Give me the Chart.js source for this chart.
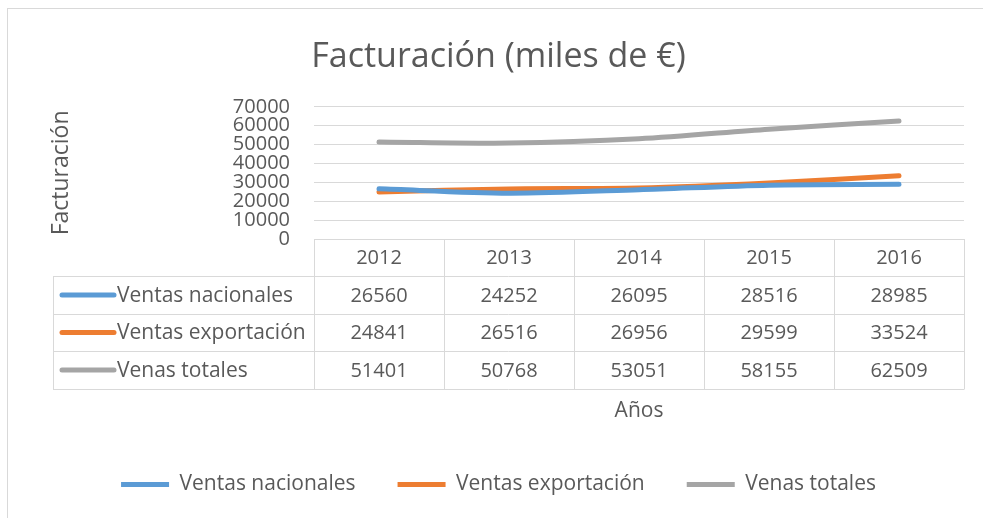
<!DOCTYPE html>
<html>
<head>
<meta charset="utf-8">
<script src="https://cdn.jsdelivr.net/npm/chart.js@4.4.1/dist/chart.umd.min.js"></script>
<style>
  html, body { margin: 0; padding: 0; background: #fff; }
  #wrap { width: 983px; height: 518px; }
</style>
</head>
<body>
<div id="wrap"><canvas id="grafico"></canvas></div>
<script>
const years = ['2012', '2013', '2014', '2015', '2016'];
const seriesNames = ['Ventas nacionales', 'Ventas exportación', 'Venas totales'];
const ventasNacionales = [26560, 24252, 26095, 28516, 28985];
const ventasExportacion = [24841, 26516, 26956, 29599, 33524];
const venasTotales = [51401, 50768, 53051, 58155, 62509];
const colores = ['#5B9BD5', '#ED7D31', '#A5A5A5'];

const textColor = '#595959';
const lineGray = '#D9D9D9';
const fontName = "'Open Sans', sans-serif";

// draws the chart frame and the data table under the plot
const tablaPlugin = {
  id: 'tabla',
  beforeDraw(chart) {
    const ctx = chart.ctx;
    ctx.save();
    ctx.strokeStyle = lineGray;
    ctx.lineWidth = 1;
    ctx.strokeRect(7.5, 8.5, 1000, 600);
    ctx.restore();
  },
  afterDraw(chart) {
    const ctx = chart.ctx;
    const area = chart.chartArea;
    const x = chart.scales.x;
    const rowH = 37.4;
    const labelLeft = 53;
    const top = area.bottom;
    const rows = [ventasNacionales, ventasExportacion, venasTotales];
    const bottom = top + (rows.length + 1) * rowH;

    let bounds = [area.left];
    for (let i = 1; i < years.length; i++) {
      bounds.push((x.getPixelForValue(i - 1) + x.getPixelForValue(i)) / 2);
    }
    bounds.push(area.right);

    ctx.save();
    ctx.strokeStyle = lineGray;
    ctx.lineWidth = 1;
    ctx.beginPath();
    ctx.moveTo(area.left, Math.round(top) + 0.5);
    ctx.lineTo(area.right, Math.round(top) + 0.5);
    for (let r = 1; r <= rows.length + 1; r++) {
      const yy = Math.round(top + r * rowH) + 0.5;
      ctx.moveTo(labelLeft, yy);
      ctx.lineTo(area.right, yy);
    }
    bounds.forEach(b => {
      const xx = Math.round(b) + 0.5;
      ctx.moveTo(xx, top);
      ctx.lineTo(xx, Math.round(bottom) + 0.5);
    });
    ctx.moveTo(labelLeft + 0.5, Math.round(top + rowH));
    ctx.lineTo(labelLeft + 0.5, Math.round(bottom) + 0.5);
    ctx.stroke();

    ctx.fillStyle = textColor;
    ctx.font = '20px ' + fontName;
    ctx.textAlign = 'center';
    ctx.textBaseline = 'middle';
    years.forEach((y, i) => {
      ctx.fillText(y, x.getPixelForValue(i), top + rowH / 2 + 1);
    });
    rows.forEach((vals, r) => {
      const cy = top + (r + 1) * rowH + rowH / 2 + 1;
      vals.forEach((v, i) => {
        ctx.fillText(String(v), x.getPixelForValue(i), cy);
      });
    });

    ctx.font = '21px ' + fontName;
    rows.forEach((vals, r) => {
      const cy = top + (r + 1) * rowH + rowH / 2;
      ctx.strokeStyle = colores[r];
      ctx.lineWidth = 5;
      ctx.lineCap = 'round';
      ctx.beginPath();
      ctx.moveTo(62, cy);
      ctx.lineTo(114, cy);
      ctx.stroke();
      ctx.textAlign = 'left';
      ctx.fillText(seriesNames[r], 117, cy + 1);
    });
    ctx.restore();
  }
};

const ctx = document.getElementById('grafico');

new Chart(ctx, {
  type: 'line',
  data: {
    labels: years,
    datasets: [
      { label: seriesNames[0], data: ventasNacionales, borderColor: colores[0], backgroundColor: colores[0] },
      { label: seriesNames[1], data: ventasExportacion, borderColor: colores[1], backgroundColor: colores[1] },
      { label: seriesNames[2], data: venasTotales, borderColor: colores[2], backgroundColor: colores[2] }
    ]
  },
  options: {
    responsive: true,
    maintainAspectRatio: false,
    animation: false,
    layout: { padding: { left: 33, right: 19, top: 0, bottom: 13 } },
    elements: {
      line: { borderWidth: 5, tension: 0.3, borderCapStyle: 'round', borderJoinStyle: 'round' },
      point: { radius: 0, hoverRadius: 0 }
    },
    plugins: {
      tooltip: { enabled: false },
      title: {
        display: true,
        text: 'Facturación (miles de €)',
        color: textColor,
        font: { family: fontName, size: 34, weight: 'normal' },
        padding: { top: 37, bottom: 29 }
      },
      legend: {
        position: 'bottom',
        labels: {
          color: textColor,
          font: { family: fontName, size: 21 },
          boxWidth: 48,
          boxHeight: 5,
          padding: 42,
          generateLabels(chart) {
            return Chart.defaults.plugins.legend.labels.generateLabels(chart).map(l => {
              l.lineWidth = 0;
              return l;
            });
          }
        }
      }
    },
    scales: {
      x: {
        offset: true,
        grid: { display: false },
        border: { display: false },
        ticks: { display: false },
        title: {
          display: true,
          text: 'Años',
          color: textColor,
          font: { family: fontName, size: 21 },
          padding: { bottom: 8 }
        },
        afterFit(scale) { scale.height = 193; }
      },
      y: {
        min: 0,
        max: 70000,
        grid: { color: lineGray, drawTicks: false },
        border: { display: false },
        ticks: {
          stepSize: 10000,
          autoSkip: false,
          padding: 24,
          color: textColor,
          font: { family: fontName, size: 20, lineHeight: 1 },
          callback: v => String(v)
        },
        title: {
          display: true,
          text: 'Facturación',
          color: textColor,
          font: { family: fontName, size: 23 },
          padding: { top: 15 }
        },
        afterFit(scale) { scale.width = 281; }
      }
    }
  },
  plugins: [tablaPlugin]
});
</script>
</body>
</html>
